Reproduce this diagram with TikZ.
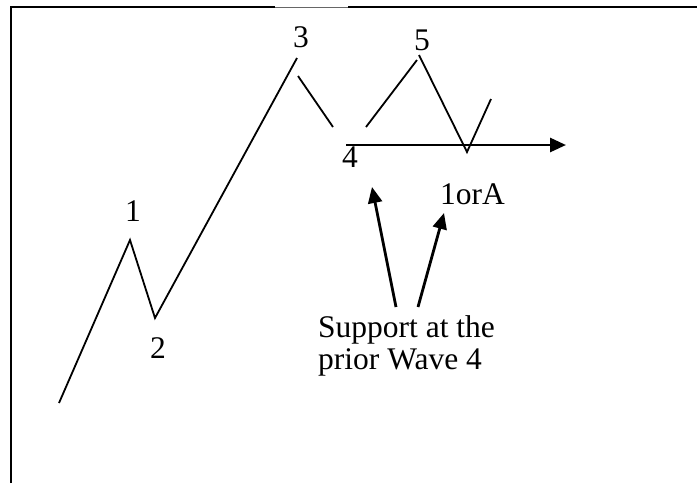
\documentclass[tikz,border=0pt]{standalone}
\usepackage{fontspec}
\setmainfont{Liberation Serif}
\usetikzlibrary{arrows.meta}
\begin{document}
\begin{tikzpicture}[x=1pt,y=-1pt,
  wave/.style={line width=1.8pt, line cap=butt},
  frame/.style={line width=2.3pt},
  support/.style={line width=2.8pt, -{Triangle[length=16pt,width=14pt]}},
  lbl/.style={font=\fontsize{31.5}{32}\selectfont, inner sep=0pt}]
\useasboundingbox (0,0) rectangle (697,483);
% frame
\coordinate (fbl) at (11,483);
\coordinate (ftl) at (11,7);
\coordinate (fg1) at (275,7);
\coordinate (fg2) at (348,7);
\coordinate (ftr) at (697,7);
\draw[frame] (fbl) -- (ftl) -- (fg1);
\draw[frame] (fg2) -- (ftr);
\draw[line width=0.6pt, black!60] (fg1) -- (fg2);
% wave points
\coordinate (w0) at (59,403);
\coordinate (w1) at (130,240);
\coordinate (w2) at (155,318);
\coordinate (w3) at (297,58);
\coordinate (w3a) at (298,76);
\coordinate (w3b) at (333,127);
\coordinate (w4a) at (366,127);
\coordinate (w4b) at (417,60);
\coordinate (w5) at (419,55);
\coordinate (wA) at (467,152);
\coordinate (wB) at (491,99);
\draw[wave] (w0) -- (w1) -- (w2) -- (w3);
\draw[wave] (w3a) -- (w3b);
\draw[wave] (w4a) -- (w4b);
\draw[wave] (w5) -- (wA) -- (wB);
% support line
\coordinate (s0) at (346,145);
\coordinate (s1) at (566,145);
\draw[support] (s0) -- (s1);
% labels
\node[lbl] (l1) at (133,211) {1};
\node[lbl] (l2) at (158,348) {2};
\node[lbl] (l3) at (301,37) {3};
\node[lbl] (l4) at (350,157) {4};
\node[lbl] (l5) at (422,40) {5};
\node[lbl, anchor=base west] (lA) at (440,204) {1orA};
\node[lbl, anchor=base west, align=left] (txt) at (318,369) {Support at the\\prior Wave 4};
\coordinate (a1s) at (396,307);
\coordinate (a1t) at (372,187);
\coordinate (a2s) at (418,307);
\coordinate (a2t) at (444,213);
\draw[support] (a1s) -- (a1t);
\draw[support] (a2s) -- (a2t);
\end{tikzpicture}
\end{document}
